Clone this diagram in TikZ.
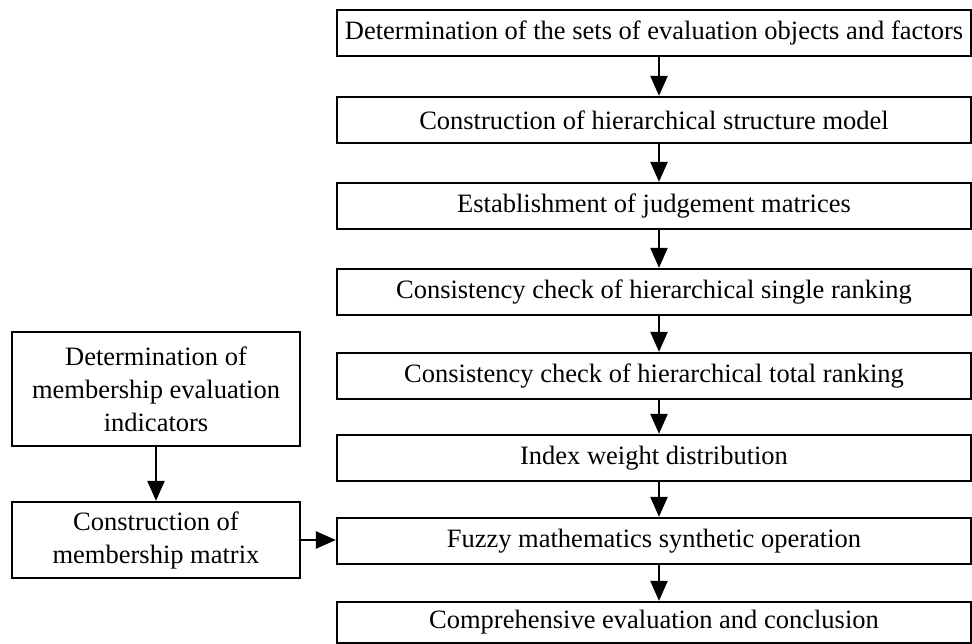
\documentclass[tikz,border=0pt]{standalone}
\usepackage{fontspec}
\setmainfont{Liberation Serif}
\usetikzlibrary{arrows.meta}
\begin{document}
\begin{tikzpicture}[x=1pt,y=-1pt,
  box/.style={draw=black,line width=2.3pt,inner sep=0pt,font=\fontsize{26.5}{33}\selectfont,align=center},
  mainbox/.style={box,minimum width=634pt,minimum height=46pt},
  sidebox/.style={box,minimum width=288pt},
  arr/.style={line width=2.3pt,-{Triangle[length=20pt,width=17pt]}}]
\useasboundingbox (0,0) rectangle (972,644);
\node[mainbox] (b1) at (654,33) {Determination of the sets of evaluation objects and factors};
\node[mainbox] (b2) at (654,120) {Construction of hierarchical structure model};
\node[mainbox] (b3) at (654,206) {Establishment of judgement matrices};
\node[mainbox] (b4) at (654,292) {Consistency check of hierarchical single ranking};
\node[mainbox] (b5) at (654,376) {Consistency check of hierarchical total ranking};
\node[mainbox] (b6) at (654,458) {Index weight distribution};
\node[mainbox] (b7) at (654,541) {Fuzzy mathematics synthetic operation};
\node[mainbox,minimum height=41pt] (b8) at (654,622.5) {Comprehensive evaluation and conclusion};
\node[sidebox,minimum height=114pt] (sa) at (156,389) {Determination of\\membership evaluation\\indicators};
\node[sidebox,minimum height=76pt] (sb) at (156,540) {Construction of\\membership matrix};
\foreach \a/\b in {b1/b2,b2/b3,b3/b4,b4/b5,b5/b6,b6/b7,b7/b8}
  \draw[arr] ([xshift=5pt]\a.south) -- ([xshift=5pt]\b.north);
\draw[arr] (sa.south) -- (sb.north);
\draw[arr] (sb.east) -- (sb.east -| b7.west);
\end{tikzpicture}
\end{document}
